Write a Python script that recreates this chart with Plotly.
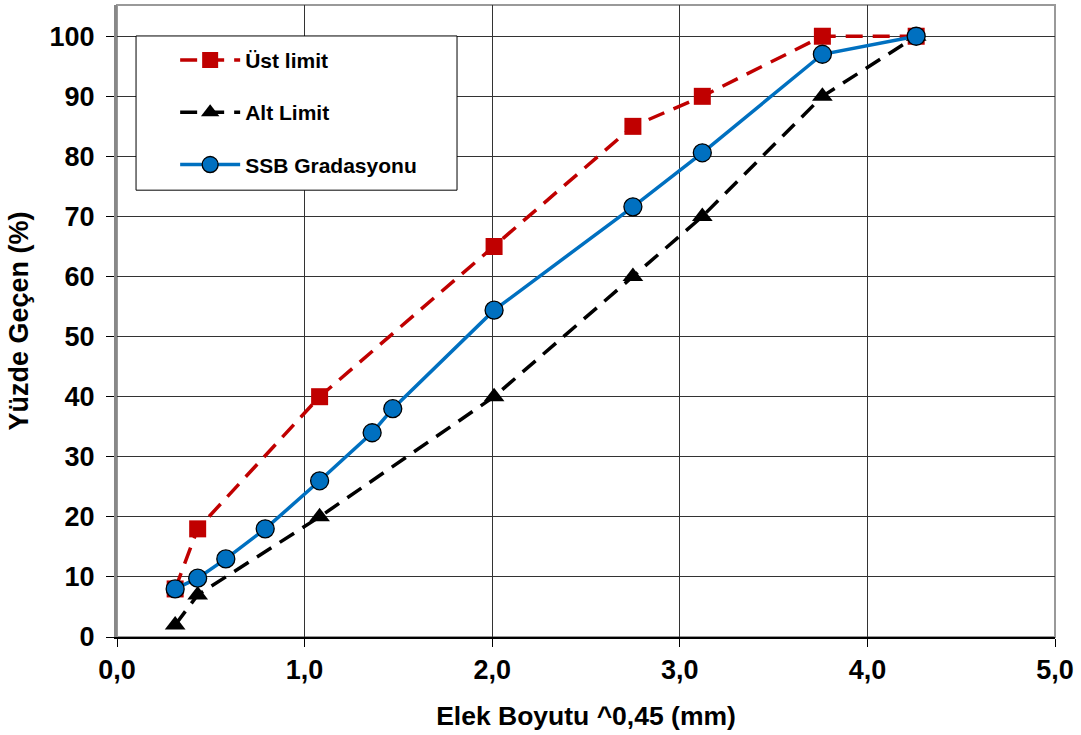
import plotly.graph_objects as go

ust_x = [0.31, 0.43, 1.08, 2.01, 2.75, 3.12, 3.76, 4.26]
ust_y = [8, 18, 40, 65, 85, 90, 100, 100]
alt_x = [0.31, 0.43, 1.08, 2.01, 2.75, 3.12, 3.76, 4.26]
alt_y = [2, 7, 20, 40, 60, 70, 90, 100]
ssb_x = [0.31, 0.43, 0.58, 0.79, 1.08, 1.36, 1.47, 2.01, 2.75, 3.12, 3.76, 4.26]
ssb_y = [8, 9.8, 13, 18, 26, 34, 38, 54.4, 71.6, 80.6, 97, 100]

x_ticks = [0, 1, 2, 3, 4, 5]
x_tick_labels = ["0,0", "1,0", "2,0", "3,0", "4,0", "5,0"]
y_ticks = list(range(0, 101, 10))

FONT = "Liberation Sans, Arial, sans-serif"

fig = go.Figure()
fig.add_trace(go.Scatter(
    x=ust_x, y=ust_y, name="<b>Üst limit</b>", mode="lines+markers",
    line=dict(color="#C00000", width=3.5, dash="17px,10px"),
    marker=dict(symbol="square", size=17, color="#C00000"),
    legendgroup="a"))
fig.add_trace(go.Scatter(
    x=alt_x, y=alt_y, name="<b>Alt Limit</b>", mode="lines+markers",
    line=dict(color="black", width=3.5, dash="17px,10px"),
    marker=dict(symbol="triangle-up", size=18, color="black"),
    legendgroup="b"))
fig.add_trace(go.Scatter(
    x=ssb_x, y=ssb_y, name="<b>SSB Gradasyonu</b>", mode="lines+markers",
    line=dict(color="#0070C0", width=3.5),
    marker=dict(symbol="circle", size=18, color="#0070C0",
                line=dict(color="black", width=1.3)),
    legendgroup="c"))

fig.update_layout(
    width=1081, height=735,
    margin=dict(l=117, r=26, t=5, b=98),
    paper_bgcolor="white", plot_bgcolor="white",
    font=dict(family=FONT, size=18, color="black"),
    showlegend=True,
    legend=dict(x=0.062, y=0.945, xanchor="left", yanchor="top",
                bgcolor="rgba(0,0,0,0)", borderwidth=0,
                font=dict(family=FONT, size=21, color="black"),
                tracegroupgap=22, itemwidth=60),
    xaxis=dict(range=[0, 5], tickvals=x_ticks, ticktext=x_tick_labels,
               showgrid=True, gridcolor="#333", gridwidth=1,
               showline=True, linecolor="black", linewidth=2,
               ticks="outside", ticklen=8, tickcolor="black",
               tickfont=dict(family=FONT, size=27, color="black", weight="bold"),
               title=dict(text="<b>Elek Boyutu ^0,45 (mm)</b>",
                          font=dict(family=FONT, size=26.5), standoff=22),
               mirror=False, zeroline=False),
    yaxis=dict(range=[0, 105.2], tickvals=y_ticks,
               showgrid=True, gridcolor="#333", gridwidth=1,
               showline=True, linecolor="#888", linewidth=3,
               ticks="outside", ticklen=8, tickcolor="black",
               ticklabelstandoff=6,
               tickfont=dict(family=FONT, size=27, color="black", weight="bold"),
               title=dict(text="<b>Yüzde Geçen (%)</b>",
                          font=dict(family=FONT, size=27), standoff=14),
               zeroline=False),
)
fig.add_shape(type="rect", xref="paper", yref="paper", x0=0, y0=0, x1=1, y1=1,
              line=dict(color="#999", width=2), layer="below")
# legend box
fig.add_shape(type="rect", xref="paper", yref="paper",
              x0=0.0203, x1=0.3625, y0=0.707, y1=0.951,
              line=dict(color="black", width=1), fillcolor="white", layer="above")

fig.write_html("out.html")
